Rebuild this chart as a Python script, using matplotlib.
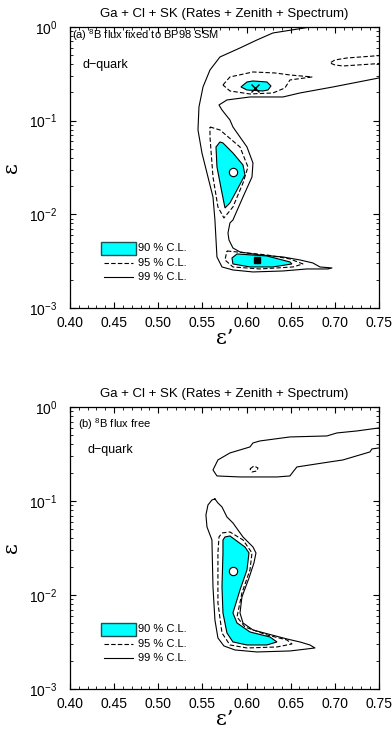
import numpy as np
import matplotlib
matplotlib.use("Agg")
import matplotlib.pyplot as plt
from matplotlib.patches import Rectangle
from matplotlib.ticker import MultipleLocator, FormatStrFormatter

plt.rcParams['font.family'] = ['Liberation Sans', 'DejaVu Sans']
plt.rcParams['mathtext.fontset'] = 'custom'
plt.rcParams['mathtext.rm'] = 'Liberation Sans'

title = "Ga + Cl + SK (Rates + Zenith + Spectrum)"
cl_labels = ["90 % C.L.", "95 % C.L.", "99 % C.L."]

# contours: (eps', log10 eps)
# panel (a): 8B flux fixed to BP98 SSM
a_99 = [(0.76, -0.5445), (0.750, -0.5445), (0.6979, -0.6405), (0.6605, -0.7046), (0.6413, -0.7473),
        (0.6039, -0.7473), (0.5778, -0.7793), (0.5688, -0.8327), (0.5722, -0.8861), (0.5812, -0.9928),
        (0.5846, -1.0676), (0.6005, -1.2811), (0.6073, -1.4519), (0.6062, -1.6014), (0.5960, -1.8149),
        (0.5846, -2.0604), (0.5812, -2.0925), (0.5790, -2.1992), (0.5801, -2.2739), (0.5846, -2.3594),
        (0.5926, -2.4020), (0.6152, -2.4341), (0.6413, -2.4554), (0.6605, -2.4874), (0.6752, -2.5195),
        (0.6832, -2.5622), (0.6968, -2.5728), (0.6922, -2.5835), (0.6684, -2.5835), (0.6413, -2.6050),
        (0.6073, -2.6155), (0.5846, -2.5942), (0.5722, -2.5622), (0.5665, -2.4554), (0.5642, -2.0604),
        (0.5620, -1.8149), (0.5563, -1.6014), (0.5495, -1.3452), (0.5450, -1.0996), (0.5461, -0.8541),
        (0.5507, -0.6405), (0.5586, -0.4591), (0.5699, -0.3203), (0.5926, -0.2242), (0.6118, -0.1388),
        (0.6299, -0.0641), (0.6798, 0.0107), (0.7624, 0.13)]
a_95_top = [(0.5733, -0.6192), (0.5812, -0.5338), (0.6073, -0.4804), (0.6322, -0.4911), (0.6492, -0.5124),
            (0.6741, -0.5338), (0.6492, -0.5658), (0.6435, -0.6512), (0.6299, -0.7046), (0.6039, -0.7153),
            (0.5812, -0.6833), (0.5733, -0.6192)]
a_95_right = [(0.76, -0.2989), (0.7138, -0.3310), (0.7002, -0.3523), (0.6945, -0.3843), (0.7002, -0.4057),
              (0.7092, -0.4164), (0.76, -0.3843)]
a_95_mid = [(0.5586, -1.0676), (0.5699, -1.0996), (0.5926, -1.2811), (0.6016, -1.4946), (0.5960, -1.6654),
            (0.5846, -1.9216), (0.5744, -2.0391), (0.5676, -1.9216), (0.5620, -1.6014), (0.5586, -1.1743),
            (0.5586, -1.0676)]
a_95_low = [(0.5778, -2.3914), (0.6231, -2.4341), (0.6492, -2.4768), (0.6639, -2.5301), (0.6526, -2.5622),
            (0.6152, -2.5835), (0.5846, -2.5622), (0.5756, -2.4874), (0.5778, -2.3914)]
a_90_top = [(0.5937, -0.6405), (0.6005, -0.5872), (0.6073, -0.5765), (0.6231, -0.5872), (0.6277, -0.6299),
            (0.6243, -0.6726), (0.6186, -0.6833), (0.6005, -0.6726)]
a_90_mid = [(0.5699, -1.2277), (0.5733, -1.2384), (0.5846, -1.3452), (0.5960, -1.4733), (0.5982, -1.5800),
            (0.5892, -1.7402), (0.5812, -1.8789), (0.5756, -1.9323), (0.5722, -1.7722), (0.5665, -1.4946),
            (0.5654, -1.2811)]
a_90_low = [(0.5835, -2.4661), (0.5892, -2.4234), (0.6231, -2.4448), (0.6492, -2.5088), (0.6515, -2.5301),
            (0.6299, -2.5622), (0.6039, -2.5622), (0.5846, -2.5301)]
a_best = (0.5846, 0.0283)      # open circle
a_cross = (0.6096, 0.223)      # x
a_square = (0.6118, 0.00326)   # filled square

# panel (b): 8B flux free
b_99_top = [(0.76, -0.2234), (0.75, -0.2234), (0.7251, -0.2553), (0.7024, -0.2766), (0.6911, -0.3085),
            (0.6492, -0.3191), (0.6152, -0.3617), (0.6073, -0.3830), (0.6039, -0.4255), (0.5812, -0.4894),
            (0.5676, -0.5638), (0.5620, -0.6702), (0.5665, -0.7340), (0.5926, -0.7447), (0.6345, -0.7447),
            (0.6492, -0.7340), (0.6526, -0.6915), (0.6571, -0.6383), (0.6866, -0.5957), (0.7092, -0.5638),
            (0.7398, -0.4787), (0.7421, -0.4468), (0.75, -0.4362), (0.76, -0.4362)]
b_95_tiny = [(0.6039, -0.6596), (0.6084, -0.6277), (0.6129, -0.6489), (0.6118, -0.6809), (0.6062, -0.6915)]
b_99 = [(0.5642, -0.9787), (0.5676, -1.0213), (0.5722, -1.0638), (0.5778, -1.1702), (0.5846, -1.2340),
        (0.5960, -1.3830), (0.6073, -1.4894), (0.6107, -1.5532), (0.6084, -1.6596), (0.6028, -1.8191),
        (0.5948, -2.0213), (0.5926, -2.1915), (0.5960, -2.2979), (0.6073, -2.3723), (0.6243, -2.4149),
        (0.6458, -2.4681), (0.6605, -2.5000), (0.6718, -2.5319), (0.6775, -2.5638), (0.6684, -2.5745),
        (0.6492, -2.5957), (0.6118, -2.6064), (0.5869, -2.5851), (0.5744, -2.5426), (0.5676, -2.4574),
        (0.5642, -2.2660), (0.5620, -1.9149), (0.5608, -1.4149), (0.5552, -1.2766), (0.5540, -1.1489),
        (0.5563, -1.0426), (0.5608, -0.9894), (0.5642, -0.9787)]
b_95 = [(0.5722, -1.3404), (0.5812, -1.3298), (0.5960, -1.4149), (0.6062, -1.5532), (0.6039, -1.7340),
        (0.5948, -1.9787), (0.5892, -2.2340), (0.5982, -2.3404), (0.6231, -2.4255), (0.6458, -2.4787),
        (0.6515, -2.5213), (0.6345, -2.5532), (0.6005, -2.5638), (0.5812, -2.5319), (0.5722, -2.4043),
        (0.5676, -2.0851), (0.5676, -1.5532), (0.5688, -1.3830), (0.5722, -1.3404)]
b_90 = [(0.5756, -1.3830), (0.5812, -1.3723), (0.5982, -1.4894), (0.6028, -1.5532), (0.6005, -1.7340),
        (0.5926, -1.9468), (0.5846, -2.1915), (0.5892, -2.2979), (0.6039, -2.3936), (0.6265, -2.4468),
        (0.6345, -2.5000), (0.6231, -2.5319), (0.6005, -2.5319), (0.5846, -2.5000), (0.5778, -2.4043),
        (0.5733, -2.1915), (0.5722, -1.9149), (0.5733, -1.5532), (0.5733, -1.4149)]
b_best = (0.5846, 0.0180)

CYAN = "#00ffff"


def xy(pts):
    a = np.array(pts)
    return a[:, 0], 10 ** a[:, 1]


def line(ax, pts, ls="-"):
    x, y = xy(pts)
    ax.plot(x, y, color="black", lw=0.8, ls=ls, dashes=(4, 2) if ls == "--" else (None, None))


def fill(ax, pts):
    x, y = xy(pts)
    ax.fill(x, y, facecolor=CYAN, edgecolor="black", lw=0.8, zorder=3)


def setup(ax, label, label_y, dq_x, dq_y):
    ax.set_xlim(0.40, 0.75)
    ax.set_yscale("log")
    ax.set_ylim(1e-3, 1)
    ax.xaxis.set_major_locator(MultipleLocator(0.05))
    ax.xaxis.set_minor_locator(MultipleLocator(0.01))
    ax.xaxis.set_major_formatter(FormatStrFormatter("%.2f"))
    ax.tick_params(which="both", direction="in", top=True, right=True, labelsize=10)
    ax.tick_params(which="major", length=4.5, width=0.8)
    ax.tick_params(which="minor", length=2.5, width=0.6)
    ax.tick_params(axis="x", pad=6)
    ax.tick_params(axis="y", pad=9)
    for s in ax.spines.values():
        s.set_linewidth(0.9)
    ax.set_title(title, fontsize=9.5, pad=7)
    ax.set_xlabel("ε’", fontsize=15, family="DejaVu Serif", labelpad=-1)
    ax.set_ylabel("ε", fontsize=15, family="DejaVu Serif", labelpad=6)
    ax.text(label[1], label_y, label[0], transform=ax.transAxes, fontsize=8, va="center")
    ax.text(dq_x, dq_y, "d−quark", transform=ax.transAxes, fontsize=9, va="center")
    # legend drawn by hand
    ax.add_patch(Rectangle((0.100, 0.188), 0.114, 0.047, transform=ax.transAxes,
                           facecolor=CYAN, edgecolor="#1f4f4f", lw=1.0))
    ax.plot([0.110, 0.204], [0.160, 0.160], transform=ax.transAxes, color="black", lw=0.8, dashes=(4, 2))
    ax.plot([0.110, 0.204], [0.110, 0.110], transform=ax.transAxes, color="black", lw=0.8)
    for t, yy in zip(cl_labels, [0.213, 0.160, 0.110]):
        ax.text(0.22, yy, t, transform=ax.transAxes, fontsize=8, va="center")


fig = plt.figure(figsize=(3.92, 7.31), dpi=100)
ax1 = fig.add_axes([0.1786, 0.5787, 0.788, 0.3844])
ax2 = fig.add_axes([0.1786, 0.0575, 0.788, 0.3858])

# (a)
setup(ax1, ("(a) $^8$B flux fixed to BP98 SSM", 0.008), 0.972, 0.042, 0.865)
line(ax1, a_99)
for c in [a_95_top, a_95_right, a_95_mid, a_95_low]:
    line(ax1, c, "--")
for c in [a_90_top, a_90_mid, a_90_low]:
    fill(ax1, c)
ax1.plot(*a_best, "o", ms=6, mfc="white", mec="black", mew=0.8, zorder=5)
ax1.plot(*a_cross, "x", ms=6, color="black", mew=1.0, zorder=5)
ax1.plot(*a_square, "s", ms=5, color="black", zorder=5)

# (b)
setup(ax2, ("(b) $^8$B flux free", 0.026), 0.94, 0.058, 0.848)
line(ax2, b_99_top)
line(ax2, b_99)
line(ax2, b_95_tiny + b_95_tiny[:1], "--")
line(ax2, b_95, "--")
fill(ax2, b_90)
ax2.plot(*b_best, "o", ms=6, mfc="white", mec="black", mew=0.8, zorder=5)

fig.savefig("out.png", dpi=100)
